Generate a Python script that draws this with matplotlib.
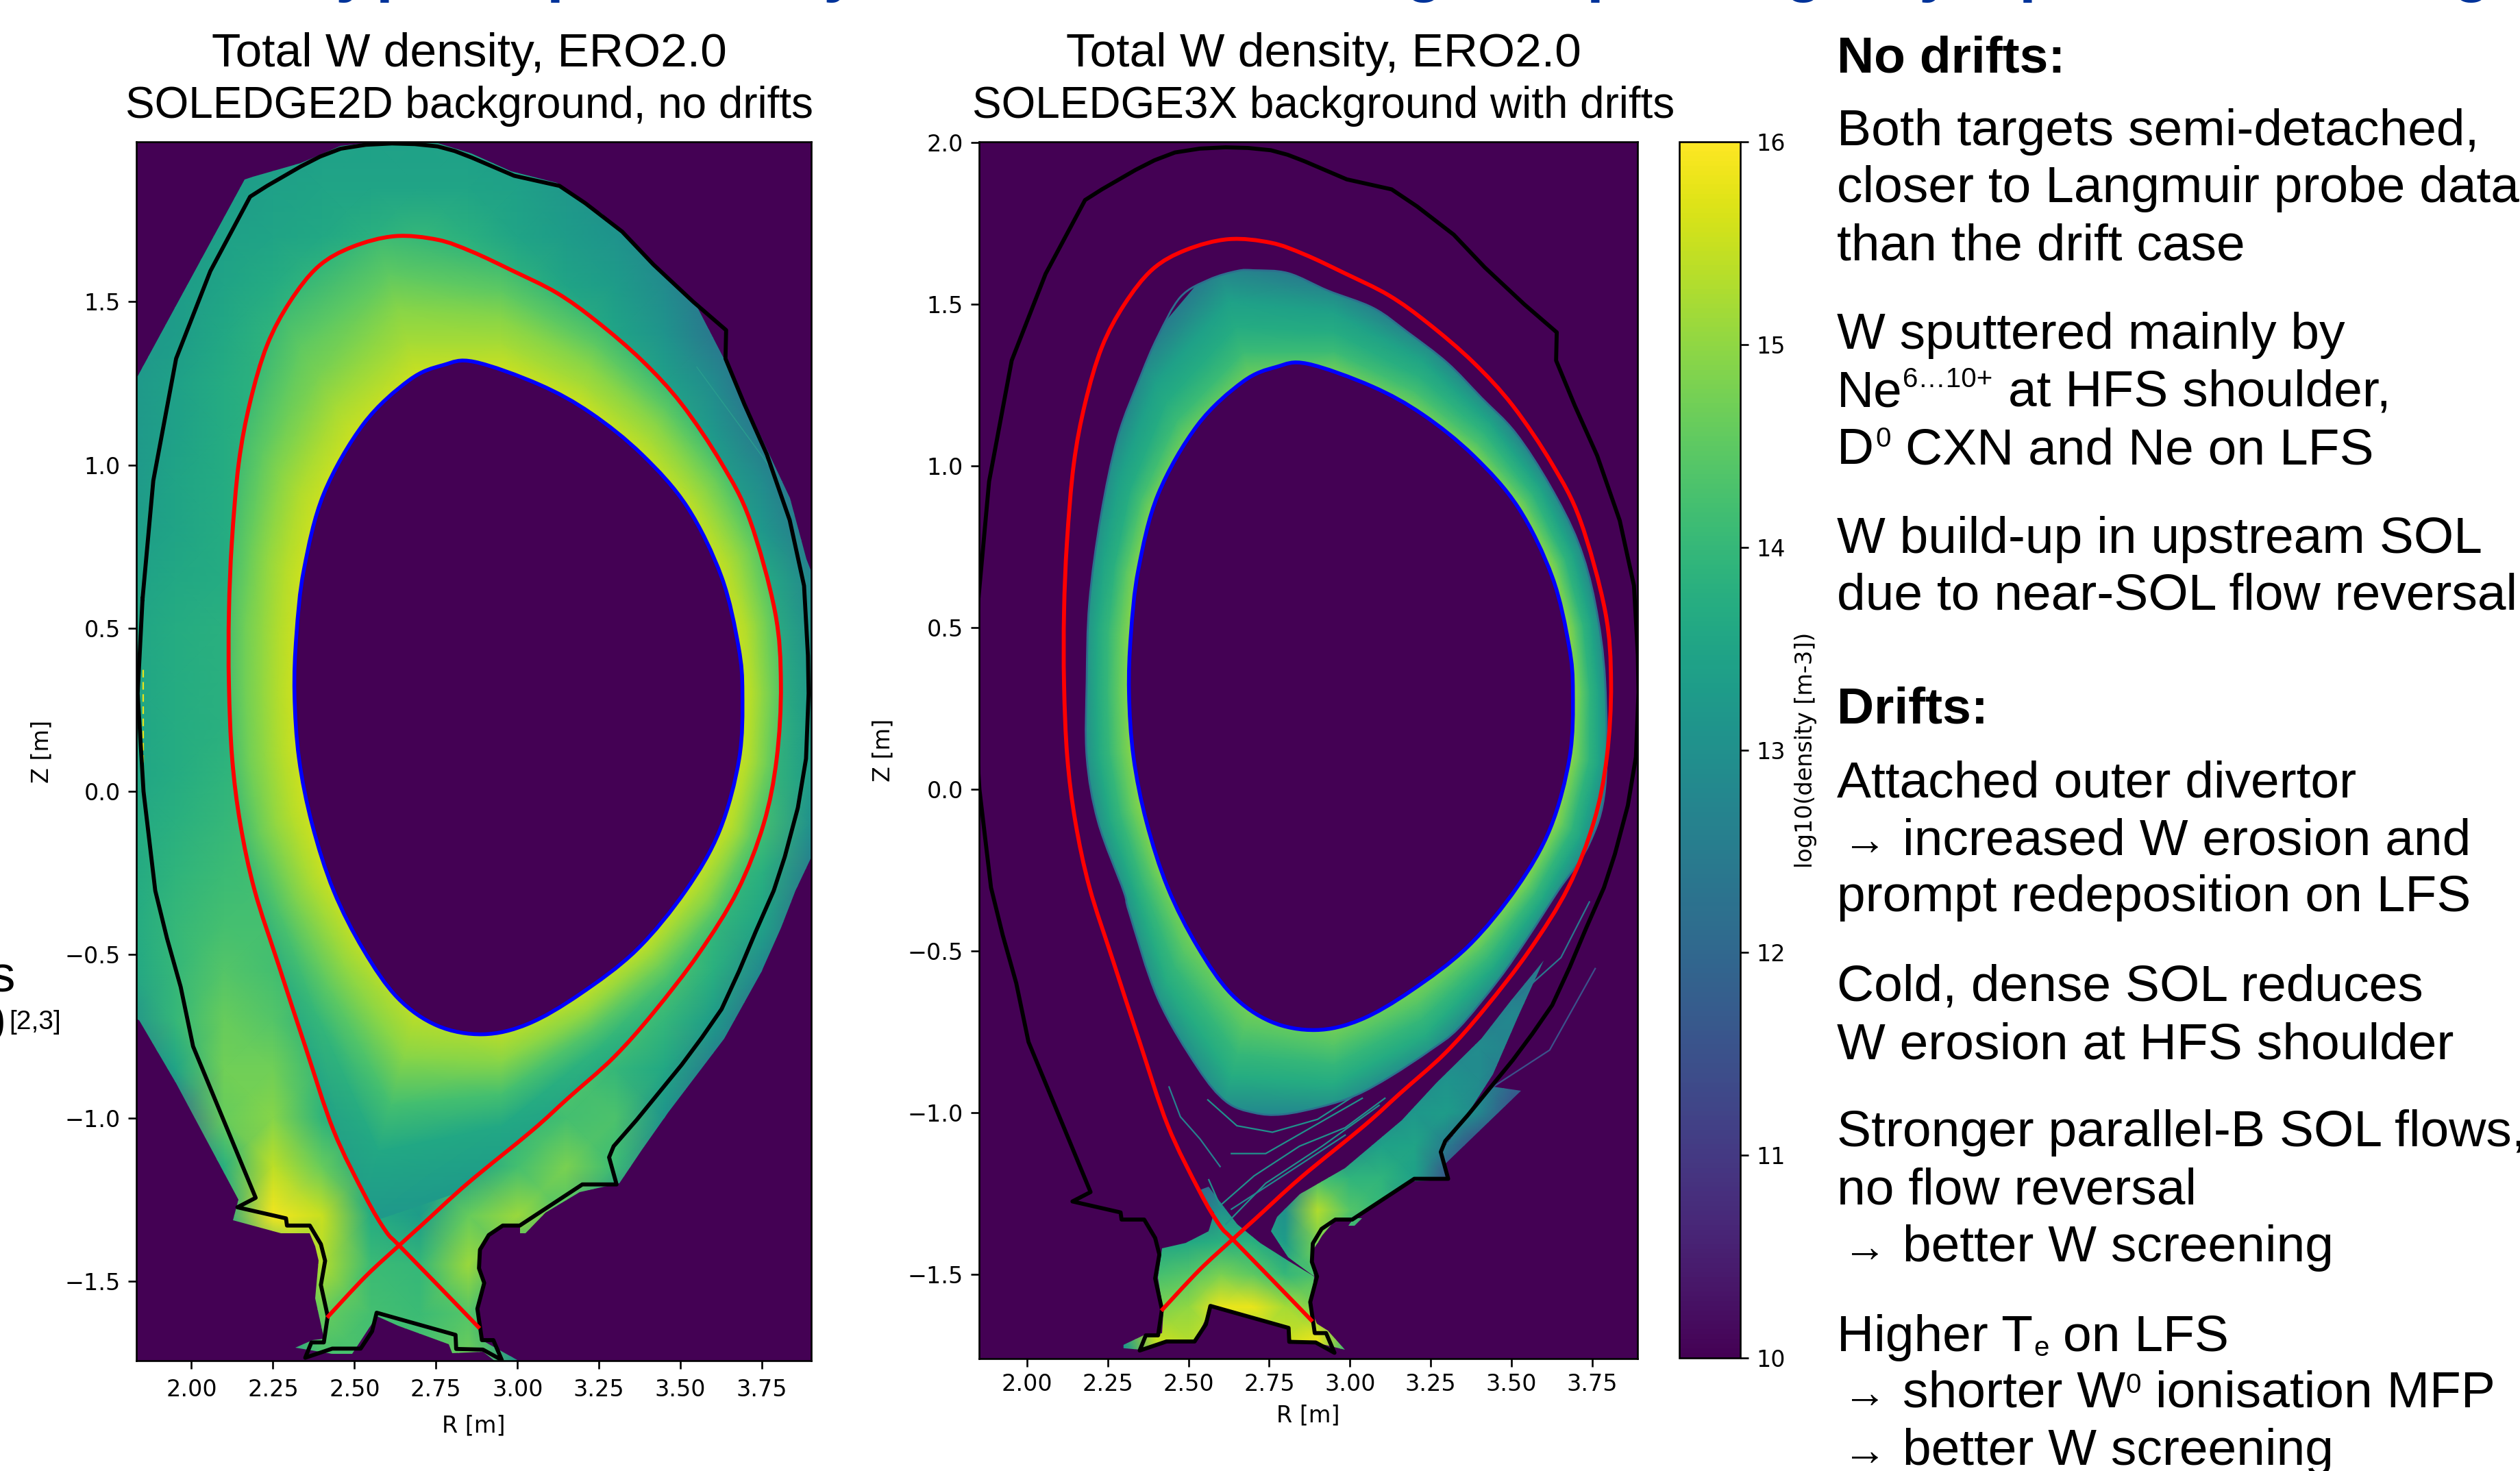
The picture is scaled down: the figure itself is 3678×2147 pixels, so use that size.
import numpy as np
import matplotlib
matplotlib.use('Agg')
import matplotlib.pyplot as plt
from matplotlib.colors import Normalize
from matplotlib.patches import PathPatch
from matplotlib.path import Path

# machine geometry, R and Z in metres
wall_R = [1.850, 1.883, 1.953, 2.058, 2.180, 2.232, 2.336, 2.395, 2.458, 2.535, 2.615, 2.685, 2.755, 2.807, 2.859,
          2.990, 3.129, 3.208, 3.321, 3.417, 3.539, 3.640, 3.638, 3.696, 3.765, 3.835, 3.879, 3.891, 3.893, 3.885,
          3.860, 3.820, 3.786, 3.731, 3.680, 3.626, 3.565, 3.504, 3.365, 3.295, 3.281, 3.304, 3.199, 3.007, 2.955,
          2.912, 2.885, 2.882, 2.898, 2.877, 2.891, 2.926, 2.952, 2.894, 2.812, 2.810, 2.568, 2.554, 2.519, 2.432,
          2.349, 2.368, 2.406, 2.418, 2.397, 2.410, 2.397, 2.363, 2.293, 2.290, 2.141, 2.197, 2.005, 1.967, 1.925,
          1.889, 1.853, 1.835, 1.850]
wall_Z = [0.590, 0.952, 1.326, 1.594, 1.822, 1.855, 1.915, 1.945, 1.969, 1.981, 1.985, 1.983, 1.976, 1.962, 1.942,
          1.886, 1.855, 1.802, 1.715, 1.614, 1.500, 1.413, 1.326, 1.186, 1.032, 0.831, 0.630, 0.416, 0.300, 0.100,
          -0.050, -0.200, -0.304, -0.429, -0.550, -0.667, -0.755, -0.837, -1.007, -1.087, -1.121, -1.204, -1.204, -1.330, -1.330,
          -1.359, -1.404, -1.461, -1.506, -1.585, -1.681, -1.681, -1.742, -1.710, -1.708, -1.665, -1.597, -1.654, -1.707, -1.707,
          -1.735, -1.688, -1.688, -1.608, -1.512, -1.438, -1.387, -1.330, -1.330, -1.308, -1.274, -1.245, -0.781, -0.599, -0.450,
          -0.304, 0.000, 0.300, 0.590]

# separatrix, from the inner target through the X-point and round the plasma
sep_R = [2.416, 2.534, 2.637, 2.709, 2.848, 3.045, 3.156, 3.295, 3.417, 3.556, 3.675, 3.755, 3.795, 3.808, 3.790,
         3.713, 3.626, 3.504, 3.382, 3.243, 3.121, 2.981, 2.859, 2.755, 2.624, 2.493, 2.389, 2.302, 2.232, 2.180,
         2.145, 2.124, 2.115, 2.115, 2.125, 2.150, 2.194, 2.267, 2.349, 2.436, 2.534, 2.596, 2.637, 2.758, 2.884]
sep_Z = [-1.612, -1.486, -1.391, -1.326, -1.200, -1.039, -0.939, -0.815, -0.678, -0.497, -0.304, -0.100, 0.100, 0.330, 0.550,
         0.831, 1.005, 1.186, 1.320, 1.440, 1.527, 1.597, 1.654, 1.690, 1.701, 1.668, 1.608, 1.500, 1.367, 1.193,
         1.005, 0.764, 0.550, 0.325, 0.100, -0.100, -0.304, -0.531, -0.781, -1.039, -1.242, -1.347, -1.391, -1.515, -1.645]

core_R = [2.868, 3.068, 3.225, 3.382, 3.521, 3.626, 3.678, 3.690, 3.680, 3.620, 3.516, 3.365, 3.190, 3.033, 2.894,
          2.755, 2.633, 2.528, 2.436, 2.370, 2.330, 2.316, 2.322, 2.345, 2.406, 2.528, 2.668, 2.772]
core_Z = [1.316, 1.246, 1.159, 1.032, 0.871, 0.657, 0.443, 0.300, 0.100, -0.120, -0.304, -0.486, -0.622, -0.712, -0.744,
          -0.718, -0.633, -0.486, -0.304, -0.100, 0.100, 0.300, 0.480, 0.680, 0.912, 1.126, 1.260, 1.306]

# edge of the coloured region, no drift case
dom_R = [1.800, 1.836, 2.162, 2.188, 2.336, 2.458, 2.615, 2.755, 2.859, 2.981, 3.121, 3.156, 3.260, 3.434, 3.548,
         3.640, 3.748, 3.835, 3.887, 3.950, 3.950, 3.853, 3.809, 3.748, 3.635, 3.461, 3.382, 3.312, 3.190, 3.086,
         3.025, 3.007, 3.007, 2.955, 2.912, 2.885, 2.882, 2.900, 2.880, 2.890, 3.000, 2.952, 2.894, 2.800, 2.790,
         2.633, 2.568, 2.493, 2.432, 2.319, 2.371, 2.406, 2.380, 2.389, 2.380, 2.363, 2.275, 2.127, 2.145, 1.953,
         1.840, 1.800]
dom_Z = [1.273, 1.273, 1.875, 1.882, 1.925, 1.978, 1.995, 1.985, 1.955, 1.900, 1.865, 1.840, 1.770, 1.600, 1.490,
         1.313, 1.086, 0.898, 0.711, 0.550, -0.100, -0.304, -0.418, -0.554, -0.758, -0.985, -1.098, -1.200, -1.228, -1.291,
         -1.353, -1.353, -1.330, -1.330, -1.359, -1.404, -1.461, -1.506, -1.585, -1.681, -1.742, -1.760, -1.716, -1.720, -1.693,
         -1.637, -1.608, -1.722, -1.722, -1.705, -1.682, -1.676, -1.552, -1.438, -1.393, -1.353, -1.353, -1.313, -1.251, -0.894,
         -0.701, -0.680]

# edge of the coloured band and divertor patches, drift case
band_R = [2.703, 2.809, 2.932, 3.073, 3.178, 3.301, 3.407, 3.512, 3.618, 3.706, 3.759, 3.790, 3.790, 3.740, 3.644,
          3.548, 3.460, 3.337, 3.249, 3.126, 3.020, 2.915, 2.791, 2.703, 2.616, 2.528, 2.405, 2.317, 2.299, 2.220,
          2.185, 2.185, 2.193, 2.229, 2.281, 2.352, 2.405, 2.475, 2.563, 2.651]
band_Z = [1.605, 1.596, 1.542, 1.488, 1.414, 1.319, 1.211, 1.103, 0.941, 0.765, 0.576, 0.333, 0.006, -0.170, -0.314,
          -0.462, -0.588, -0.737, -0.806, -0.887, -0.945, -0.980, -1.005, -1.000, -0.965, -0.860, -0.646, -0.382, -0.314, -0.100,
          0.100, 0.333, 0.576, 0.846, 1.089, 1.278, 1.400, 1.522, 1.576, 1.603]
div_R = [2.419, 2.405, 2.422, 2.419, 2.361, 2.281, 2.352, 2.422, 2.519, 2.572, 2.809, 2.818, 2.897, 2.985, 2.932,
         2.897, 2.879, 2.888, 2.809, 2.721, 2.651, 2.616, 2.563, 2.528, 2.580, 2.563, 2.492]
div_Z = [-1.418, -1.510, -1.613, -1.681, -1.687, -1.727, -1.733, -1.705, -1.705, -1.596, -1.665, -1.705, -1.711, -1.733, -1.674,
         -1.651, -1.607, -1.505, -1.458, -1.401, -1.344, -1.298, -1.229, -1.241, -1.309, -1.367, -1.401]
lobe_R = [2.888, 2.809, 2.756, 2.774, 2.844, 2.985, 3.161, 3.266, 3.407, 3.495, 3.600, 3.520, 3.442, 3.337, 3.284,
          3.301, 3.197, 3.011, 2.959, 2.914, 2.879]
lobe_Z = [-1.505, -1.447, -1.367, -1.321, -1.252, -1.172, -1.023, -0.909, -0.771, -0.657, -0.530, -0.700, -0.880, -1.046, -1.115,
          -1.207, -1.212, -1.326, -1.326, -1.378, -1.435]
strip_R = [3.292, 3.530, 3.442, 3.337, 3.284]
strip_Z = [-1.161, -0.932, -0.920, -1.046, -1.115]
tile_R = [3.011, 3.037, 3.015, 2.995]
tile_Z = [-1.326, -1.326, -1.350, -1.350]

# filaments below the band in the drift case
fil_a_R = [2.440, 2.475, 2.536, 2.598]
fil_a_Z = [-0.920, -1.012, -1.081, -1.166]
fil_b_R = [2.633, 2.739, 2.879, 3.038]
fil_b_Z = [-1.126, -1.126, -1.046, -0.955]
fil_c_R = [2.563, 2.598, 2.703, 2.844, 2.985, 3.108]
fil_c_Z = [-1.207, -1.287, -1.195, -1.103, -1.046, -0.955]
fil_d_R = [2.616, 2.739, 2.914, 3.090]
fil_d_Z = [-1.344, -1.218, -1.103, -0.977]
fil_e_R = [2.633, 2.809, 2.985]
fil_e_Z = [-1.298, -1.184, -1.069]
fil_f_R = [3.512, 3.653, 3.741]
fil_f_Z = [-0.646, -0.520, -0.348]
fil_g_R = [3.424, 3.618, 3.759]
fil_g_Z = [-0.932, -0.806, -0.554]
fil_h_R = [2.560, 2.650, 2.760, 2.900, 3.040]
fil_h_Z = [-0.960, -1.040, -1.060, -1.020, -0.930]

# log10 density, no drifts: scrape-off layer on an R-Z grid
grid_R = [1.80, 1.95, 2.10, 2.25, 2.40, 2.55, 2.70, 2.85, 3.00, 3.15, 3.30, 3.45, 3.60, 3.75, 3.90]
grid_Z = [2.00, 1.85, 1.70, 1.55, 1.40, 1.25, 1.10, 0.95, 0.80, 0.65, 0.50, 0.35, 0.20, 0.05, -0.10, -0.25, -0.40,
          -0.55, -0.70, -0.85, -1.00, -1.15, -1.30, -1.45, -1.60, -1.75, -1.90]
sol_left = [
    [13.2, 13.2, 13.3, 13.3, 13.4, 13.4, 13.4, 13.4, 13.3, 13.2, 13.0, 12.7, 12.0, 12.0, 12.0],
    [13.2, 13.2, 13.3, 13.4, 13.5, 13.5, 13.5, 13.5, 13.4, 13.2, 13.0, 12.7, 12.0, 12.0, 12.0],
    [13.2, 13.2, 13.4, 13.5, 13.6, 13.8, 14.0, 13.8, 13.5, 13.3, 13.1, 12.8, 12.2, 12.0, 12.0],
    [13.2, 13.3, 13.5, 13.7, 14.0, 14.3, 14.3, 14.2, 13.9, 13.5, 13.3, 12.9, 12.3, 12.0, 12.0],
    [13.2, 13.3, 13.6, 13.9, 14.3, 14.5, 14.5, 14.5, 14.3, 14.0, 13.5, 13.1, 12.4, 12.0, 12.0],
    [13.2, 13.4, 13.7, 13.9, 14.3, 14.5, 14.5, 14.5, 14.5, 14.3, 13.9, 13.4, 12.9, 12.0, 12.0],
    [13.2, 13.4, 13.7, 13.9, 14.3, 14.5, 14.5, 14.5, 14.5, 14.5, 14.3, 13.8, 13.2, 12.4, 12.0],
    [13.2, 13.5, 13.7, 14.0, 14.3, 14.5, 14.5, 14.5, 14.5, 14.5, 14.5, 14.0, 13.5, 12.9, 12.0],
    [13.3, 13.5, 13.7, 14.0, 14.5, 14.5, 14.5, 14.5, 14.5, 14.5, 14.5, 14.5, 13.8, 13.2, 12.4],
    [13.4, 13.6, 13.7, 14.0, 14.5, 14.5, 14.5, 14.5, 14.5, 14.5, 14.5, 14.5, 14.0, 13.7, 12.8],
    [13.5, 13.7, 13.8, 14.1, 14.5, 14.5, 14.5, 14.5, 14.5, 14.5, 14.5, 14.5, 14.3, 13.9, 13.0],
    [13.5, 13.7, 13.8, 14.1, 14.5, 14.5, 14.5, 14.5, 14.5, 14.5, 14.5, 14.5, 14.5, 14.0, 13.2],
    [13.5, 13.7, 13.8, 14.1, 14.5, 14.5, 14.5, 14.5, 14.5, 14.5, 14.5, 14.5, 14.5, 14.1, 13.3],
    [13.5, 13.7, 13.9, 14.1, 14.5, 14.5, 14.5, 14.5, 14.5, 14.5, 14.5, 14.5, 14.5, 14.1, 13.3],
    [13.6, 13.8, 14.0, 14.2, 14.5, 14.5, 14.5, 14.5, 14.5, 14.5, 14.5, 14.5, 14.5, 14.2, 13.0],
    [13.6, 13.9, 14.1, 14.2, 14.5, 14.5, 14.5, 14.5, 14.5, 14.5, 14.5, 14.5, 14.2, 13.8, 12.5],
    [13.6, 14.0, 14.2, 14.2, 14.5, 14.5, 14.5, 14.5, 14.5, 14.5, 14.5, 14.5, 14.0, 13.5, 12.0],
    [13.5, 14.0, 14.4, 14.2, 14.0, 14.5, 14.5, 14.5, 14.5, 14.5, 14.5, 14.4, 13.8, 12.8, 12.0],
    [13.0, 14.0, 14.6, 14.4, 13.8, 14.3, 14.5, 14.5, 14.5, 14.5, 14.4, 14.0, 13.3, 12.0, 12.0],
    [12.0, 13.5, 14.7, 14.7, 14.0, 13.8, 14.0, 14.1, 14.2, 14.4, 14.0, 13.6, 12.5, 12.0, 12.0],
    [12.0, 12.0, 14.6, 14.9, 13.9, 13.6, 13.6, 13.6, 13.9, 14.2, 14.3, 13.1, 12.0, 12.0, 12.0],
    [12.0, 12.0, 13.8, 15.4, 14.6, 13.5, 13.4, 13.4, 14.2, 14.8, 14.1, 12.5, 12.0, 12.0, 12.0],
    [12.0, 12.0, 13.5, 15.9, 15.5, 13.7, 13.3, 14.6, 15.1, 14.3, 12.5, 12.0, 12.0, 12.0, 12.0],
    [12.0, 12.0, 13.0, 14.0, 15.3, 14.1, 14.0, 15.1, 13.5, 13.0, 12.0, 12.0, 12.0, 12.0, 12.0],
    [12.0, 12.0, 13.0, 13.5, 14.6, 14.2, 14.1, 14.4, 13.5, 13.0, 12.0, 12.0, 12.0, 12.0, 12.0],
    [12.0, 12.0, 13.0, 13.0, 14.2, 14.2, 14.3, 14.7, 13.0, 13.0, 12.0, 12.0, 12.0, 12.0, 12.0],
    [12.0, 12.0, 13.0, 13.0, 14.2, 14.2, 14.3, 14.7, 13.0, 13.0, 12.0, 12.0, 12.0, 12.0, 12.0],
]

# log10 density by angle round the plasma centre (rows) and fraction from core to edge (columns)
angles = np.arange(0, 360, 15)
rho_levels = [-0.05, 0.25, 0.50, 0.75, 1.15]
core_left = [
    [15.5, 15.3, 15.0, 14.7, 14.2], [15.5, 15.3, 15.0, 14.7, 14.2], [15.5, 15.25, 15.0, 14.7, 14.2],
    [15.5, 15.2, 14.9, 14.6, 14.0], [15.5, 15.2, 14.9, 14.5, 13.9], [15.6, 15.2, 14.9, 14.5, 13.9],
    [15.6, 15.2, 14.9, 14.5, 13.9], [15.6, 15.2, 14.9, 14.5, 13.9], [15.6, 15.2, 14.8, 14.5, 13.9],
    [15.6, 15.25, 14.9, 14.5, 13.9], [15.6, 15.3, 15.0, 14.6, 13.9], [15.6, 15.3, 15.0, 14.7, 13.9],
    [15.6, 15.3, 15.0, 14.7, 13.9], [15.6, 15.3, 15.0, 14.7, 13.9], [15.6, 15.3, 15.0, 14.6, 13.8],
    [15.6, 15.2, 14.8, 14.3, 13.6], [15.5, 15.0, 14.5, 14.0, 13.4], [15.5, 14.9, 14.2, 13.6, 13.2],
    [15.5, 14.9, 14.2, 13.6, 13.3], [15.5, 15.0, 14.4, 13.9, 13.5], [15.5, 15.1, 14.7, 14.3, 13.8],
    [15.5, 15.2, 14.9, 14.5, 14.0], [15.5, 15.3, 15.0, 14.6, 14.1], [15.5, 15.3, 15.0, 14.7, 14.2],
]
core_right = [
    [15.1, 14.5, 13.9, 13.5, 12.6], [15.1, 14.5, 13.9, 13.5, 12.6], [15.1, 14.5, 13.9, 13.5, 12.6],
    [15.0, 14.4, 13.9, 13.5, 12.6], [14.9, 14.3, 13.9, 13.5, 12.6], [14.8, 14.2, 13.8, 13.5, 12.6],
    [14.8, 14.1, 13.7, 13.4, 12.5], [14.8, 14.1, 13.7, 13.4, 12.5], [14.8, 14.1, 13.7, 13.4, 12.5],
    [14.9, 14.2, 13.7, 13.4, 12.6], [15.0, 14.4, 13.8, 13.5, 12.7], [15.0, 14.5, 14.0, 13.6, 12.7],
    [15.0, 14.5, 14.0, 13.6, 12.7], [15.0, 14.5, 14.0, 13.6, 12.7], [15.0, 14.5, 14.0, 13.6, 12.7],
    [14.9, 14.4, 14.0, 13.6, 12.8], [14.8, 14.4, 14.0, 13.7, 12.8], [14.8, 14.4, 14.0, 13.7, 12.8],
    [14.8, 14.4, 14.0, 13.7, 12.8], [14.8, 14.4, 14.0, 13.7, 12.8], [14.9, 14.4, 14.0, 13.6, 12.8],
    [15.0, 14.5, 14.0, 13.6, 12.7], [15.1, 14.5, 13.9, 13.5, 12.6], [15.1, 14.5, 13.9, 13.5, 12.6],
]

# log10 density, drifts: divertor and outer leg on an R-Z grid
low_R = [2.3, 2.4, 2.5, 2.6, 2.7, 2.8, 2.9, 3.0, 3.1, 3.2, 3.3, 3.4, 3.5, 3.6, 3.7]
low_Z = [-0.4, -0.5, -0.6, -0.7, -0.8, -0.9, -1.0, -1.1, -1.2, -1.3, -1.4, -1.5, -1.6, -1.7, -1.8]
low_right = [
    [12.0, 12.0, 12.0, 12.0, 12.0, 12.0, 12.0, 12.0, 12.0, 12.0, 12.0, 12.0, 12.0, 12.2, 12.4],
    [12.0, 12.0, 12.0, 12.0, 12.0, 12.0, 12.0, 12.0, 12.0, 12.0, 12.0, 12.0, 12.0, 12.4, 12.4],
    [12.0, 12.0, 12.0, 12.0, 12.0, 12.0, 12.0, 12.0, 12.0, 12.0, 12.0, 12.0, 12.4, 12.6, 12.4],
    [12.0, 12.0, 12.0, 12.0, 12.0, 12.0, 12.0, 12.0, 12.0, 12.0, 12.0, 12.5, 12.8, 12.6, 12.0],
    [12.0, 12.0, 12.0, 12.0, 12.0, 12.0, 12.0, 12.0, 12.0, 12.0, 12.6, 12.9, 12.7, 12.0, 12.0],
    [12.0, 12.0, 12.0, 12.0, 12.0, 12.0, 12.0, 12.0, 12.0, 12.8, 13.1, 12.9, 12.0, 12.0, 12.0],
    [12.0, 12.0, 12.0, 12.0, 12.0, 12.0, 12.0, 12.0, 12.8, 13.2, 13.3, 12.8, 11.5, 11.0, 11.0],
    [12.0, 12.0, 12.0, 12.0, 12.0, 12.0, 12.0, 12.9, 13.4, 13.5, 12.5, 11.3, 11.0, 11.0, 11.0],
    [12.0, 12.0, 12.0, 12.0, 12.0, 12.0, 14.2, 13.9, 13.9, 13.4, 11.5, 11.0, 11.0, 11.0, 11.0],
    [12.0, 12.0, 12.0, 13.0, 13.0, 13.0, 15.3, 14.4, 14.0, 12.5, 11.0, 11.0, 11.0, 11.0, 11.0],
    [12.0, 13.5, 13.6, 13.8, 13.8, 13.3, 14.8, 13.8, 12.0, 11.0, 11.0, 11.0, 11.0, 11.0, 11.0],
    [13.0, 14.2, 14.4, 14.8, 14.5, 14.0, 14.3, 12.5, 11.0, 11.0, 11.0, 11.0, 11.0, 11.0, 11.0],
    [13.0, 14.8, 15.0, 15.8, 15.8, 15.2, 14.8, 13.0, 11.0, 11.0, 11.0, 11.0, 11.0, 11.0, 11.0],
    [13.2, 15.5, 15.3, 15.2, 15.0, 15.5, 15.8, 14.0, 11.0, 11.0, 11.0, 11.0, 11.0, 11.0, 11.0],
    [13.0, 14.5, 15.0, 15.0, 15.0, 15.0, 15.0, 13.5, 11.0, 11.0, 11.0, 11.0, 11.0, 11.0, 11.0],
]

cbar_ticks = [10, 11, 12, 13, 14, 15, 16]
r_ticks = [2.00, 2.25, 2.50, 2.75, 3.00, 3.25, 3.50, 3.75]
z_ticks = [-1.5, -1.0, -0.5, 0.0, 0.5, 1.0, 1.5]
z_ticks_right = [-1.5, -1.0, -0.5, 0.0, 0.5, 1.0, 1.5, 2.0]

# text on the slide: (left px, baseline px, string)
notes = [
    (2681, 212, 'Both targets semi-detached,'), (2681, 295, 'closer to Langmuir probe data'),
    (2681, 379, 'than the drift case'), (2681, 509, 'W sputtered mainly by'),
    (2681, 593, 'Ne'), (2931, 593, 'at HFS shoulder,'), (2681, 677, 'D'), (2781, 677, 'CXN and Ne on LFS'),
    (2681, 807, 'W build-up in upstream SOL'), (2681, 890, 'due to near-SOL flow reversal'),
    (2681, 1164, 'Attached outer divertor'), (2777, 1247, 'increased W erosion and'),
    (2681, 1330, 'prompt redeposition on LFS'), (2681, 1461, 'Cold, dense SOL reduces'),
    (2681, 1545, 'W erosion at HFS shoulder'), (2681, 1673, 'Stronger parallel-B SOL flows,'),
    (2681, 1757, 'no flow reversal'), (2777, 1841, 'better W screening'),
    (2681, 1972, 'Higher T'), (3011, 1972, 'on LFS'), (2777, 2054, 'shorter W'), (3146, 2054, 'ionisation MFP'),
    (2777, 2138, 'better W screening'),
]
small_notes = [(2777, 565, '6…10+'), (2737, 652, '0'), (3102, 2033, '0'), (2968, 1979, 'e')]
arrow_lines = [1247, 1841, 2054, 2138]
bold_notes = [(105, 'No drifts:'), (1056, 'Drifts:')]
cut_title = [(514, 'y'), (576, 'p'), (825, 'p'), (1226, 'y'), (2078, 'g'), (2343, 'p'), (2632, 'g'), (2825, 'y'),
             (2974, 'p'), (3607, 'g')]

W, H = 3678, 2147
plt.rcParams['font.family'] = ['DejaVu Sans']
plt.rcParams['axes.linewidth'] = 1.9
plt.rcParams['xtick.major.size'] = 8.4
plt.rcParams['ytick.major.size'] = 8.4
plt.rcParams['xtick.major.width'] = 1.9
plt.rcParams['ytick.major.width'] = 1.9
plt.rcParams['ytick.major.pad'] = 8.4

cmap = plt.get_cmap('viridis')
norm = Normalize(10, 16)
BG = cmap(0.0)
CENTRE = (2.95, 0.30)


def box(left, top, right, bottom):
    return [left / W, 1 - bottom / H, (right - left) / W, (bottom - top) / H]


def closed(rs, zs):
    pts = np.column_stack([rs, zs])
    return Path(np.vstack([pts, pts[0]]), closed=True)


# bezier path through the read points so the curves are not drawn as facets
def smooth(rs, zs, loop=False):
    pts = np.column_stack([rs, zs])
    n = len(pts)
    verts = [pts[0]]
    codes = [Path.MOVETO]
    for i in range(n if loop else n - 1):
        if loop:
            p0, p1, p2, p3 = pts[(i - 1) % n], pts[i], pts[(i + 1) % n], pts[(i + 2) % n]
        else:
            p0, p1, p2, p3 = pts[max(i - 1, 0)], pts[i], pts[i + 1], pts[min(i + 2, n - 1)]
        verts += [p1 + (p2 - p0) / 6, p2 - (p3 - p1) / 6, p2]
        codes += [Path.CURVE4] * 3
    return Path(np.array(verts), codes)


# radius of an outline at the mesh angles, seen from the plasma centre
def ring(rs, zs, ang):
    rs = np.asarray(rs)
    zs = np.asarray(zs)
    a = np.degrees(np.arctan2(zs - CENTRE[1], rs - CENTRE[0])) % 360
    return np.interp(ang, a, np.hypot(rs - CENTRE[0], zs - CENTRE[1]), period=360)


def plasma_mesh(ax, edge_R, edge_Z, values, clip):
    ang = np.append(angles, 360)
    r0 = ring(core_R, core_Z, ang)
    r1 = ring(edge_R, edge_Z, ang)
    rho = np.array(rho_levels)
    rad = r0[:, None] + rho[None, :] * (r1 - r0)[:, None]
    t = np.radians(ang)[:, None]
    vals = np.vstack([values, values[0]])
    mesh = ax.pcolormesh(CENTRE[0] + rad * np.cos(t), CENTRE[1] + rad * np.sin(t), vals,
                         shading='gouraud', cmap=cmap, norm=norm, zorder=2)
    mesh.set_clip_path(clip, transform=ax.transData)
    return mesh


def machine(ax, label_pad, tick_pad):
    ax.add_patch(PathPatch(smooth(core_R, core_Z, loop=True), fc=BG, ec='blue', lw=4.0, zorder=5))
    ax.plot(wall_R, wall_Z, color='black', lw=4.2, zorder=4)
    ax.add_patch(PathPatch(smooth(sep_R, sep_Z), fc='none', ec='red', lw=4.2, zorder=5))
    ax.set_xlabel('R [m]', fontsize=24, labelpad=label_pad)
    ax.set_xticks(r_ticks, [f'{v:.2f}' for v in r_ticks])
    ax.tick_params(labelsize=24)
    ax.tick_params(axis='x', pad=tick_pad)


fig = plt.figure(figsize=(W / 100, H / 100), dpi=100)

# no drifts panel
ax1 = fig.add_axes(box(199, 207, 1184, 1986), facecolor=BG)
m = ax1.pcolormesh(grid_R, grid_Z, np.array(sol_left), shading='gouraud', cmap=cmap, norm=norm, zorder=1)
m.set_clip_path(closed(dom_R, dom_Z), transform=ax1.transData)
# sep_R[2:-2] is the closed loop through the X-point
plasma_mesh(ax1, sep_R[2:-2], sep_Z[2:-2], np.array(core_left), smooth(sep_R[2:-2], sep_Z[2:-2]))
ax1.plot([1.852, 1.852], [0.05, 0.38], color='#e8e419', lw=1.6, ls=(0, (5, 3)), zorder=3)
ax1.plot([3.55, 3.77], [1.30, 1.00], color='#2a9d8f', lw=1, zorder=3)
machine(ax1, 14, 10)
ax1.set_xlim(1.831, 3.901)
ax1.set_ylim(-1.744, 1.990)
ax1.set_yticks(z_ticks)
ax1.set_ylabel('Z [m]', fontsize=24)
ax1.yaxis.set_label_coords((77 - 199) / 985, 0.5)

# drifts panel
ax2 = fig.add_axes(box(1429, 207, 2390, 1983), facecolor=BG)
low_clip = Path.make_compound_path(closed(div_R, div_Z), closed(lobe_R, lobe_Z), closed(strip_R, strip_Z),
                                   closed(tile_R, tile_Z))
m2 = ax2.pcolormesh(low_R, low_Z, np.array(low_right), shading='gouraud', cmap=cmap, norm=norm, zorder=1)
m2.set_clip_path(low_clip, transform=ax2.transData)
band_path = smooth(band_R, band_Z, loop=True)
band_mesh = plasma_mesh(ax2, band_R, band_Z, np.array(core_right), band_path)
# thin darker fringe round the band
ax2.add_patch(PathPatch(band_path, fc='none', ec=cmap(norm(12.2)), lw=2, zorder=2.5))
for fr, fz, val in [(fil_a_R, fil_a_Z, 12.6), (fil_b_R, fil_b_Z, 13.0), (fil_c_R, fil_c_Z, 13.0),
                    (fil_d_R, fil_d_Z, 13.0), (fil_e_R, fil_e_Z, 12.8), (fil_f_R, fil_f_Z, 12.4),
                    (fil_g_R, fil_g_Z, 11.5), (fil_h_R, fil_h_Z, 13.0)]:
    ax2.plot(fr, fz, color=cmap(norm(val)), lw=1.6, zorder=1.5)
machine(ax2, 9, 7)
ax2.set_xlim(1.852, 3.890)
ax2.set_ylim(-1.760, 2.002)
ax2.set_yticks(z_ticks_right)
ax2.set_ylabel('Z [m]', fontsize=24)
ax2.yaxis.set_label_coords((1305 - 1429) / 961, 0.5)

# colour bar
cax = fig.add_axes(box(2451, 207, 2540, 1982))
cb = fig.colorbar(band_mesh, cax=cax, ticks=cbar_ticks)
cb.ax.tick_params(labelsize=24)
cb.outline.set_linewidth(1.9)
fig.text(2636 / W, 1 - 1095 / H, 'log10(density [m-3])', rotation=90, fontsize=24, ha='center', va='center')

# slide text
sans = ['Liberation Sans', 'DejaVu Sans']
for cx, line1, line2 in [(685, 'Total W density, ERO2.0', 'SOLEDGE2D background, no drifts'),
                         (1932, 'Total W density, ERO2.0', 'SOLEDGE3X background with drifts')]:
    fig.text(cx / W, 1 - 97 / H, line1, family=sans, fontsize=50, ha='center', va='baseline')
    fig.text(cx / W, 1 - 172 / H, line2, family=sans, fontsize=46, ha='center', va='baseline')
for x, base, s in notes:
    fig.text(x / W, 1 - base / H, s, family=sans, fontsize=54, va='baseline')
for x, base, s in small_notes:
    fig.text(x / W, 1 - base / H, s, family=sans, fontsize=29, va='baseline')
for base, s in bold_notes:
    fig.text(2681 / W, 1 - base / H, s, family=sans, fontsize=54, weight='bold', va='baseline')
for base in arrow_lines:
    fig.text(2690 / W, 1 - base / H, '→', family=sans, fontsize=46, va='baseline')

# pieces of the neighbouring slide content cut by the crop
fig.text(22 / W, 1 - 1447 / H, 's', family=sans, fontsize=54, ha='right', va='baseline')
fig.text(7 / W, 1 - 1520 / H, '0', family=sans, fontsize=54, ha='right', va='baseline')
fig.text(13 / W, 1 - 1502 / H, '[2,3]', family=sans, fontsize=28, va='baseline')
for x, s in cut_title:
    fig.text(x / W, 1 + 15.5 / H, s, family=sans, fontsize=65, weight='bold', color='#00339a', ha='center',
             va='baseline')

fig.savefig('out.png', dpi=100)
